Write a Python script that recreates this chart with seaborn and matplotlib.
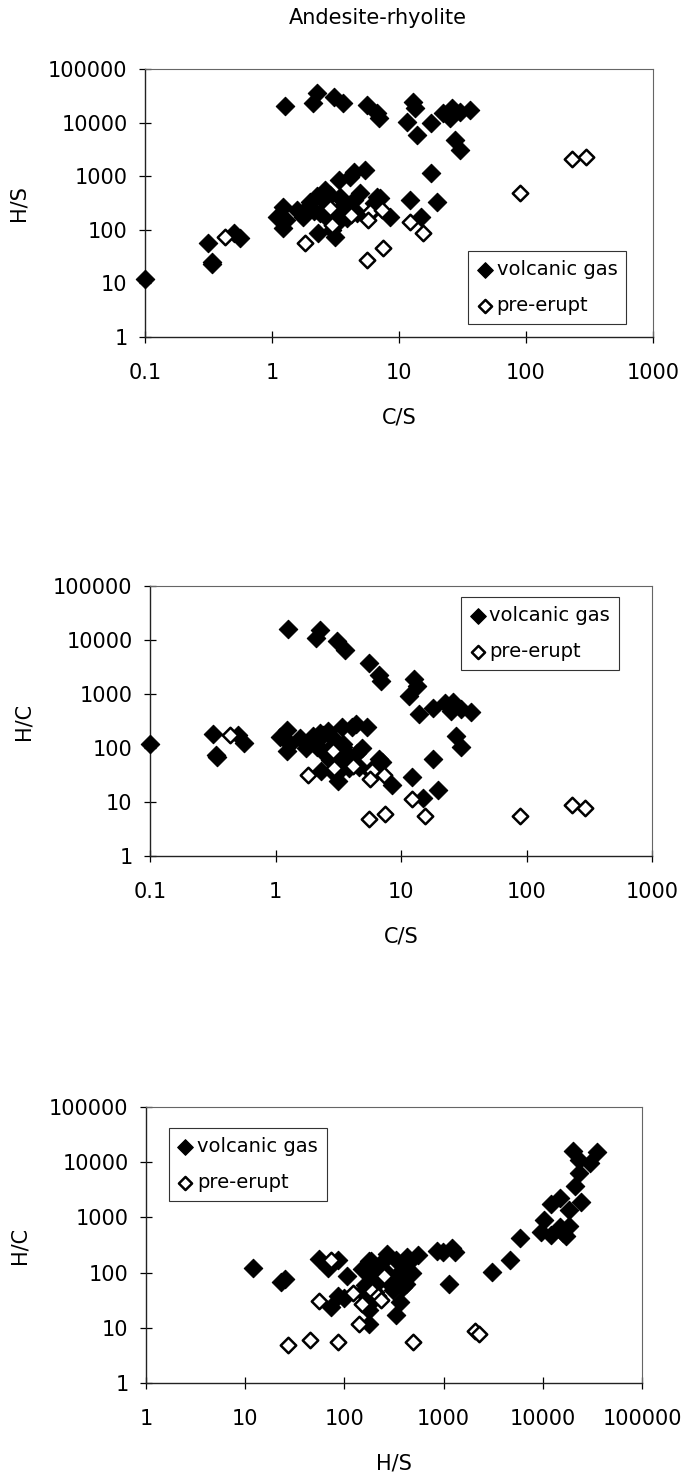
import numpy as np
import pandas as pd
import matplotlib
matplotlib.use('Agg')
import matplotlib.pyplot as plt
import seaborn as sns

# volcanic gas: C/S, H/S and H/C molar ratios
gas_cs = [1.26, 2.25, 2.1, 3.1, 3.6, 5.6, 6.7, 6.9, 12.8, 13.4, 11.5, 13.8, 18, 22.3, 26, 25, 30, 36, 27.6, 30,
          18, 19.8, 12.2, 15, 5.4, 4.4, 4.1, 3.4, 2.6, 2.0, 2.4, 2.86, 3.43, 2.7, 3.9, 4.9, 6.7, 8.5, 1.76, 1.23,
          1.09, 1.3, 1.23, 2.32, 3.13, 2.95, 3.87, 4.65, 2.39, 3.24, 5.9, 6.3, 7.1, 1.56, 3.43, 0.315, 0.335, 0.56,
          0.5, 0.1, 0.34, 2.26, 2.13, 3.47, 4.43, 2.72, 1.77, 1.15]
gas_hs = [20000, 35000, 23000, 30000, 23000, 21000, 15000, 12000, 24000, 18500, 10400, 5900, 9700, 15000, 18500,
          12000, 16000, 17000, 4700, 3100,
          1130, 335, 360, 175, 1300, 1210, 980, 850, 550, 335, 415, 445, 415, 270, 270, 480, 415, 175, 175, 270,
          175, 152, 107, 86, 74, 100, 165, 203, 203, 218, 203, 310, 390, 234, 152, 56, 25, 69,
          86, 12, 23, 425, 225, 368, 354, 163, 216, 187]
gas_hc = [15900, 15500, 11000, 9700, 6400, 3750, 2240, 1740, 1880, 1380, 900, 430, 540, 670, 710, 480, 530, 470,
          170, 103,
          63, 17, 29.5, 11.7, 240, 275, 240, 250, 210, 168, 173, 156, 121, 100, 69, 98, 62, 20.6, 99, 220,
          160, 117, 87, 37, 24, 34, 43, 44, 85, 67, 34, 49, 55, 150, 44, 178, 75, 123,
          172, 120, 68, 188, 106, 106, 80, 60, 122, 162]

# pre-eruptive estimates
pre_cs = [0.43, 1.82, 2.86, 2.95, 4.17, 5.9, 5.7, 7.3, 12.2, 15.5, 5.6, 7.5, 89, 232, 295]
pre_hs = [74, 56, 250, 123, 190, 218, 152, 234, 141, 86, 27, 45, 490, 2070, 2300]
pre_hc = [172, 31, 87, 42, 46, 37, 27, 32, 11.6, 5.5, 4.8, 6.0, 5.5, 8.9, 7.8]

cs_ticks = [0.1, 1, 10, 100, 1000]
cs_labels = ['0.1', '1', '10', '100', '1000']
ratio_ticks = [1, 10, 100, 1000, 10000, 100000]
ratio_labels = ['1', '10', '100', '1000', '10000', '100000']

gas = pd.DataFrame({'C/S': gas_cs, 'H/S': gas_hs, 'H/C': gas_hc})
pre = pd.DataFrame({'C/S': pre_cs, 'H/S': pre_hs, 'H/C': pre_hc})

sns.set_theme(style='ticks')
plt.rcParams['font.family'] = ['DejaVu Sans']
plt.rcParams['axes.linewidth'] = 0.9
for key in ['text.color', 'axes.labelcolor', 'xtick.color', 'ytick.color']:
    plt.rcParams[key] = 'black'

fig = plt.figure(figsize=(6.85, 14.72), dpi=100)
fig.text(0.551, 1 - 18 / 1472, 'Andesite-rhyolite', ha='center', va='center', fontsize=15)


def panel(rect, x, y, xticks, xlabels, loc, anchor):
    ax = fig.add_axes(rect)
    sns.scatterplot(data=gas, x=x, y=y, marker='D', s=88, color='black', edgecolor='black',
                    linewidth=0.8, label='volcanic gas', ax=ax, zorder=3, clip_on=False)
    sns.scatterplot(data=pre, x=x, y=y, marker='D', s=62, color='white', edgecolor='black',
                    linewidth=1.8, label='pre-erupt', ax=ax, zorder=4, clip_on=False)
    ax.set_xscale('log')
    ax.set_yscale('log')
    ax.set_xlim(xticks[0], xticks[-1])
    ax.set_ylim(1, 100000)
    ax.set_xticks(xticks, xlabels)
    ax.set_yticks(ratio_ticks, ratio_labels)
    ax.minorticks_off()
    ax.tick_params(axis='x', direction='inout', length=9, width=0.9, pad=14, labelsize=15)
    ax.tick_params(axis='y', direction='inout', length=9, width=0.9, pad=8, labelsize=15)
    ax.set_xlabel(x, fontsize=15, labelpad=18)
    ax.set_ylabel(y, fontsize=15, labelpad=14)
    for side in ['left', 'bottom']:
        ax.spines[side].set_color('#222222')
        ax.spines[side].set_linewidth(1.0)
    for side in ['top', 'right']:
        ax.spines[side].set_color('#666666')
        ax.spines[side].set_linewidth(0.8)
    leg = ax.legend(loc=loc, bbox_to_anchor=anchor, frameon=True, fancybox=False, framealpha=1,
                    edgecolor='#333333', fontsize=14, handlelength=0.8, handletextpad=0.2,
                    borderpad=0.45, labelspacing=0.9, borderaxespad=0, markerscale=0.85)
    leg.get_frame().set_linewidth(0.8)
    return ax


panel([145 / 685, 1 - 337 / 1472, 508 / 685, 268 / 1472], 'C/S', 'H/S', cs_ticks, cs_labels,
      'lower right', (0.947, 0.049))
panel([150 / 685, 1 - 856 / 1472, 502 / 685, 270 / 1472], 'C/S', 'H/C', cs_ticks, cs_labels,
      'upper right', (0.934, 0.959))
panel([146 / 685, 1 - 1383 / 1472, 496 / 685, 276 / 1472], 'H/S', 'H/C', ratio_ticks, ratio_labels,
      'upper left', (0.046, 0.924))

fig.savefig('out.png', dpi=100)
